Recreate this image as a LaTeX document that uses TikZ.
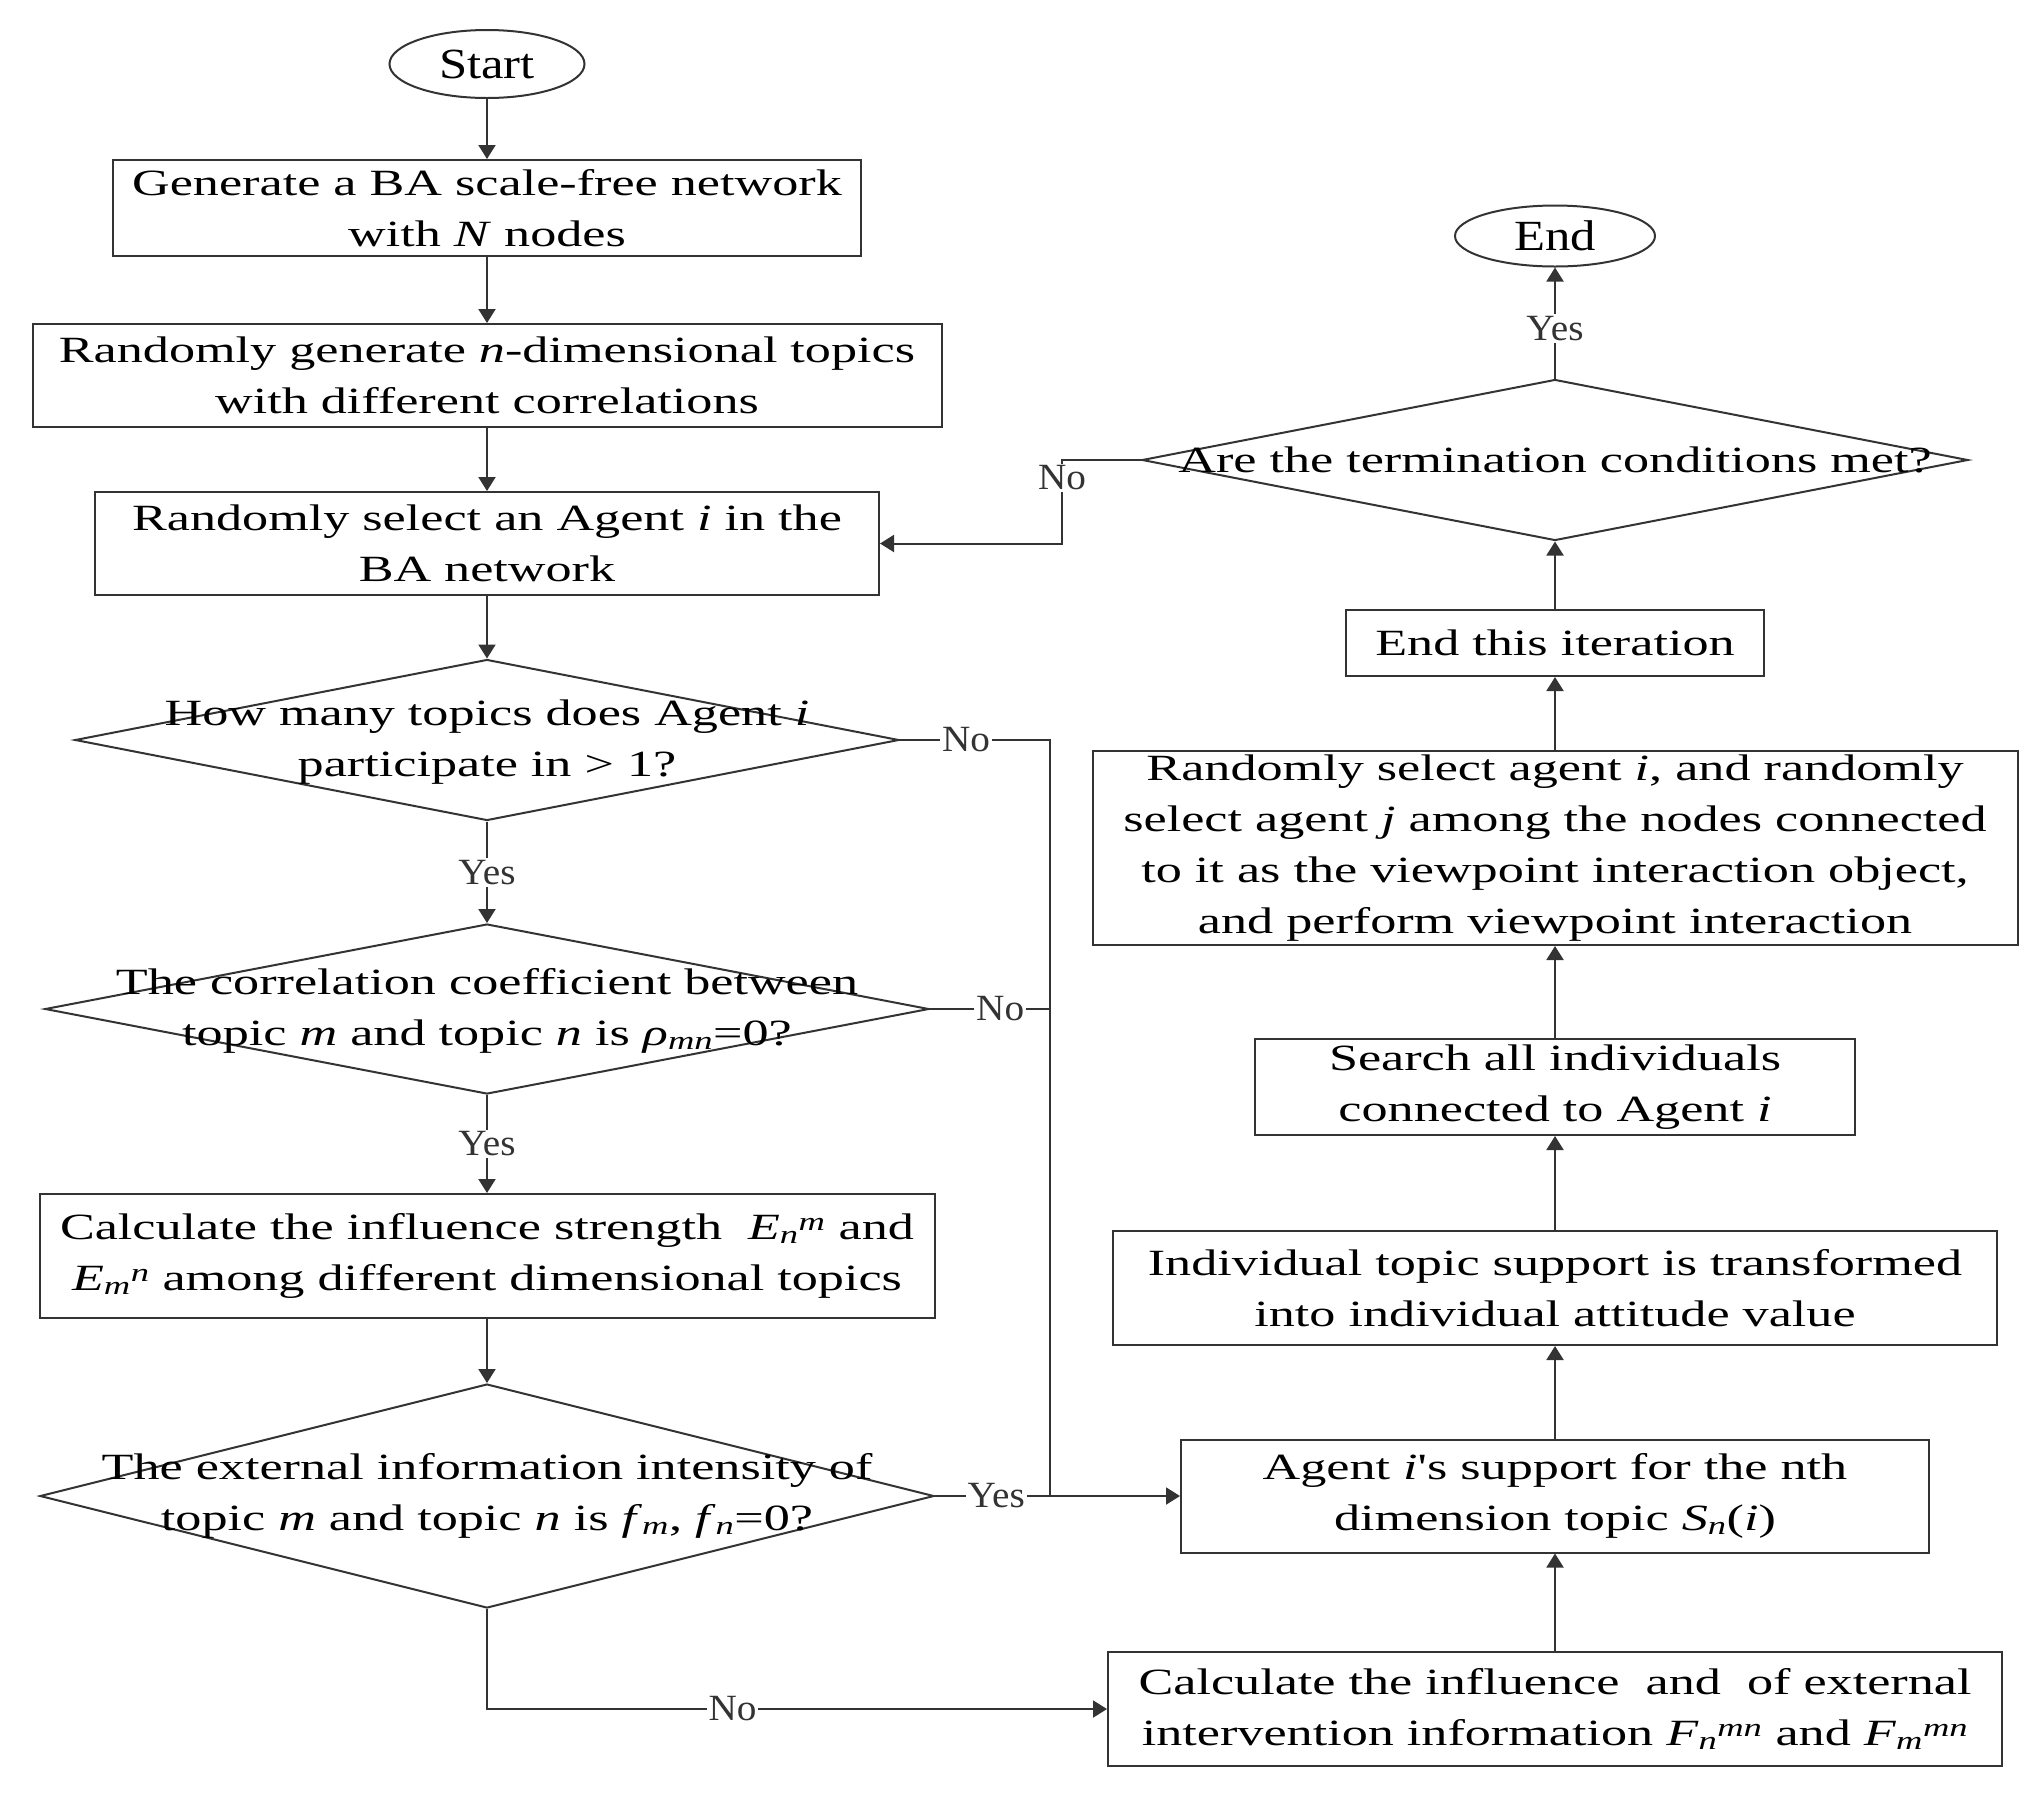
\documentclass[tikz,border=0pt]{standalone}
\usepackage{fontspec}
\setmainfont{Liberation Serif}
\newfontfamily\bxfam[FakeStretch=1.41]{Liberation Serif}
\newfontfamily\tmfam[FakeStretch=1.18]{Liberation Serif}
\newfontfamily\lbfam[FakeStretch=1.06]{Liberation Serif}
\usetikzlibrary{shapes.geometric,arrows.meta}
\newcommand\bxtext{\bxfam\fontsize{37pt}{51pt}\selectfont}
\newcommand\tmtext{\tmfam\fontsize{43pt}{50pt}\selectfont}
\newcommand\labtext{\lbfam\fontsize{37pt}{44pt}\selectfont}
\newcommand\sbi[1]{\textsubscript{\textit{#1}}}
\newcommand\spi[1]{\textsuperscript{\textit{#1}}}
\definecolor{linec}{gray}{0.2}
\tikzset{
  box/.style={draw=linec, line width=2pt, rectangle, align=center, inner sep=0pt, font=\bxtext},
  term/.style={draw=linec, line width=2pt, ellipse, inner sep=0pt, font=\tmtext},
  dia/.style={draw=linec, line width=2pt, diamond, inner sep=0pt},
  dtext/.style={align=center, inner sep=0pt, font=\bxtext},
  lab/.style={fill=white, inner sep=2pt, font=\labtext, text=black!80},
  ln/.style={draw=linec, line width=2pt},
  arr/.style={draw=linec, line width=2pt, -{Triangle[length=14pt,width=17pt]}},
}
\begin{document}
\begin{tikzpicture}[x=1pt,y=-1pt]
\useasboundingbox (0,0) rectangle (2042,1800);
% left column
\node[term, minimum width=195pt, minimum height=68pt] (start) at (487,64) {Start};
\node[box, minimum width=748pt, minimum height=96pt] (gen) at (487,208) {Generate a BA scale-free network\\ with \textit{N} nodes};
\node[box, minimum width=909pt, minimum height=103pt] (rgen) at (487,375.5) {Randomly generate \textit{n}-dimensional topics\\ with different correlations};
\node[box, minimum width=784pt, minimum height=103pt] (sel) at (487,543.5) {Randomly select an Agent \textit{i} in the\\ BA network};
\node[dia, minimum width=824pt, minimum height=161pt] (d1) at (487,740) {};
\node[dtext] (d1t) at (487,742) {How many topics does Agent \textit{i}\\ participate in > 1?};
\node[dia, minimum width=884pt, minimum height=170pt] (d2) at (487,1009) {};
\node[dtext] (d2t) at (487,1011) {The correlation coefficient between\\ topic \textit{m} and topic \textit{n} is \textit{ρ}\sbi{mn}=0?};
\node[box, minimum width=895pt, minimum height=124pt] (calc) at (487,1256) {Calculate the influence strength\ \ \textit{E}\sbi{n}\spi{m} and\\ \textit{E}\sbi{m}\spi{n} among different dimensional topics};
\node[dia, minimum width=894pt, minimum height=224pt] (d3) at (487,1496) {};
\node[dtext] (d3t) at (487,1496) {The external information intensity of\\ topic \textit{m} and topic \textit{n} is \textit{f}\sbi{m}, \textit{f}\sbi{n}=0?};
% right column
\node[term, minimum width=200pt, minimum height=61pt] (end) at (1555,236) {End};
\node[dia, minimum width=826pt, minimum height=161pt] (d4) at (1555,460) {};
\node[dtext] (d4t) at (1555,460) {Are the termination conditions met?};
\node[box, minimum width=418pt, minimum height=66pt] (iter) at (1555,643) {End this iteration};
\node[box, minimum width=925pt, minimum height=194pt] (rsel) at (1555,848) {Randomly select agent \textit{i}, and randomly\\ select agent \textit{j} among the nodes connected\\ to it as the viewpoint interaction object,\\ and perform viewpoint interaction};
\node[box, minimum width=600pt, minimum height=96pt] (search) at (1555,1087) {Search all individuals\\ connected to Agent \textit{i}};
\node[box, minimum width=884pt, minimum height=114pt] (indiv) at (1555,1288) {Individual topic support is transformed\\ into individual attitude value};
\node[box, minimum width=748pt, minimum height=113pt] (agent) at (1555,1496) {Agent \textit{i}'s support for the nth\\ dimension topic \textit{S}\sbi{n}(\textit{i})};
\node[box, minimum width=894pt, minimum height=114pt] (calcF) at (1555,1709) {Calculate the influence\ \ and\ \ of external\\ intervention information \textit{F}\sbi{n}\spi{mn} and \textit{F}\sbi{m}\spi{mn}};
% junction points
\coordinate (j1) at (1050,740);
\coordinate (j3) at (1050,1496);
\coordinate (c4) at (1062,460);
% left column connectors
\draw[arr] (start) -- (gen);
\draw[arr] (gen) -- (rgen);
\draw[arr] (rgen) -- (sel);
\draw[arr] (sel) -- (d1.north);
\draw[arr] (d1.south) -- node[lab] (y1) {Yes} (d2.north);
\draw[arr] (d2.south) -- node[lab] (y2) {Yes} (calc.north);
\draw[arr] (calc) -- (d3.north);
\draw[arr] (d3.south) |- node[lab,pos=0.698] (n3) {No} (calcF.west);
% right-going branches
\draw[ln] (d1.east) -- node[lab,pos=0.44] (n1) {No} (j1) -- (j3);
\draw[ln] (d2.east) -- node[lab,pos=0.585] (n2) {No} (d2.east -| j1);
\draw[arr] (d3.east) -- node[lab,pos=0.25] (y3) {Yes} (agent.west);
% right column connectors
\draw[arr] (calcF) -- (agent);
\draw[arr] (agent) -- (indiv);
\draw[arr] (indiv) -- (search);
\draw[arr] (search) -- (rsel);
\draw[arr] (rsel) -- (iter);
\draw[arr] (iter) -- (d4.south);
\draw[arr] (d4.north) -- node[lab,pos=0.45] (y4) {Yes} (end.south);
\draw[arr] (d4.west) -- (c4) |- (sel.east);
\node[lab] (n4) at (1062,478) {No};
\end{tikzpicture}
\end{document}
